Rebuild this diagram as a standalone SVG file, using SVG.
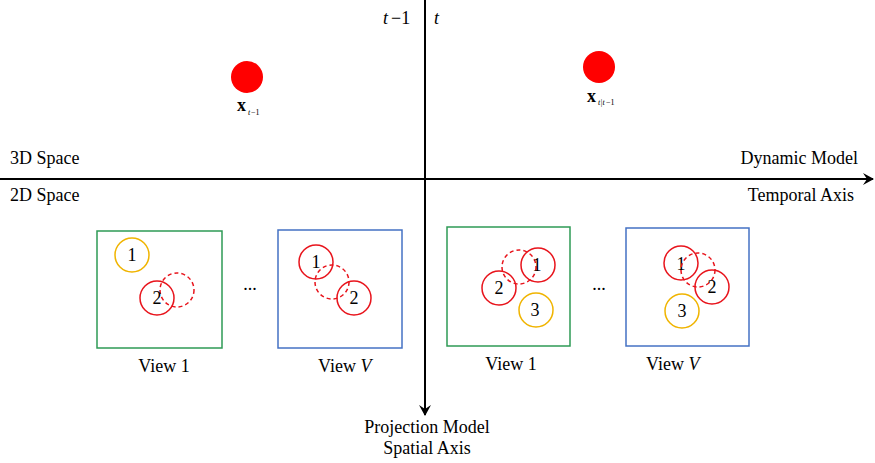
<svg xmlns="http://www.w3.org/2000/svg" width="875" height="463" viewBox="0 0 875 463">
<style>
text{font-family:"Liberation Serif","Times New Roman",serif;font-size:18px;fill:#000}
.c{text-anchor:middle}
.r{text-anchor:end}
.n{font-size:18px}
.sub{font-size:8px}
.ax{stroke:#000;stroke-width:2;fill:none}
.red{fill:none;stroke:#e8141c;stroke-width:1.5}
.dash{fill:none;stroke:#e8141c;stroke-width:1.5;stroke-dasharray:4 3}
.yel{fill:none;stroke:#f0b400;stroke-width:1.5}
.gbox{fill:none;stroke:#2e9a55;stroke-width:1.5}
.bbox{fill:none;stroke:#4472c4;stroke-width:1.5}
</style>
<defs>
<marker id="ah" viewBox="0 0 12 12" refX="10" refY="6" markerWidth="12" markerHeight="12" markerUnits="userSpaceOnUse" orient="auto">
<path d="M0,0 L11,6 L0,12 L4,6 Z" fill="#000"/>
</marker>
</defs>
<g id="connectors">
<line class="ax" x1="0" y1="179" x2="873" y2="179" marker-end="url(#ah)"/>
<line class="ax" x1="425" y1="0" x2="425" y2="415" marker-end="url(#ah)"/>
</g>
<g id="time-labels">
<text x="383" y="24" font-style="italic">t</text><text x="391" y="24">−1</text>
<text x="434" y="24" font-style="italic">t</text>
</g>
<g id="state-prev">
<circle cx="247" cy="77" r="16" fill="#ff0000"/>
<text x="237" y="111" font-weight="bold">x</text><text class="sub" x="248" y="115" font-style="italic">t</text><text class="sub" x="251" y="115">−1</text>
</g>
<g id="state-pred">
<circle cx="599" cy="67" r="16" fill="#ff0000"/>
<text x="587" y="102" font-weight="bold">x</text><text class="sub" x="598" y="105" font-style="italic">t|t</text><text class="sub" x="606" y="105">−1</text>
</g>
<g id="axis-labels">
<text x="10" y="164">3D Space</text>
<text x="10" y="201">2D Space</text>
<text class="r" x="858" y="164">Dynamic Model</text>
<text class="r" x="854" y="201">Temporal Axis</text>
<text class="c" x="427" y="433">Projection Model</text>
<text class="c" x="427" y="454">Spatial Axis</text>
</g>
<g id="view1-prev">
<rect class="gbox" x="97" y="231" width="125" height="117"/>
<circle class="yel" cx="132" cy="255" r="17"/><text class="c n" x="132" y="261">1</text>
<circle class="dash" cx="177" cy="290" r="17"/>
<circle class="red" cx="157" cy="298" r="17"/><text class="c n" x="157" y="304">2</text>
<text class="c" x="164" y="372">View 1</text>
</g>
<text class="c" x="250" y="290">...</text>
<g id="viewV-prev">
<rect class="bbox" x="278" y="230" width="124" height="118"/>
<circle class="red" cx="316" cy="262" r="17"/><text class="c n" x="316" y="268">1</text>
<circle class="dash" cx="332" cy="282" r="17"/>
<circle class="red" cx="354" cy="298" r="17"/><text class="c n" x="354" y="304">2</text>
<text x="318" y="372">View <tspan font-style="italic">V</tspan></text>
</g>
<g id="view1-cur">
<rect class="gbox" x="447" y="227" width="123" height="119"/>
<circle class="dash" cx="519" cy="267" r="17"/>
<circle class="red" cx="538" cy="265" r="17"/><text class="c n" x="537" y="271">1</text>
<circle class="red" cx="499" cy="288" r="17"/><text class="c n" x="499" y="294">2</text>
<circle class="yel" cx="536" cy="310" r="17"/><text class="c n" x="535" y="316">3</text>
<text class="c" x="511" y="370">View 1</text>
</g>
<text class="c" x="599" y="290">...</text>
<g id="viewV-cur">
<rect class="bbox" x="626" y="228" width="123" height="118"/>
<circle class="red" cx="681" cy="263" r="17"/><text class="c n" x="681" y="270">1</text>
<circle class="dash" cx="698" cy="270" r="17"/>
<circle class="red" cx="712" cy="287" r="17"/><text class="c n" x="712" y="293">2</text>
<circle class="yel" cx="682" cy="311" r="17"/><text class="c n" x="682" y="317">3</text>
<text x="646" y="370">View <tspan font-style="italic">V</tspan></text>
</g>
</svg>
